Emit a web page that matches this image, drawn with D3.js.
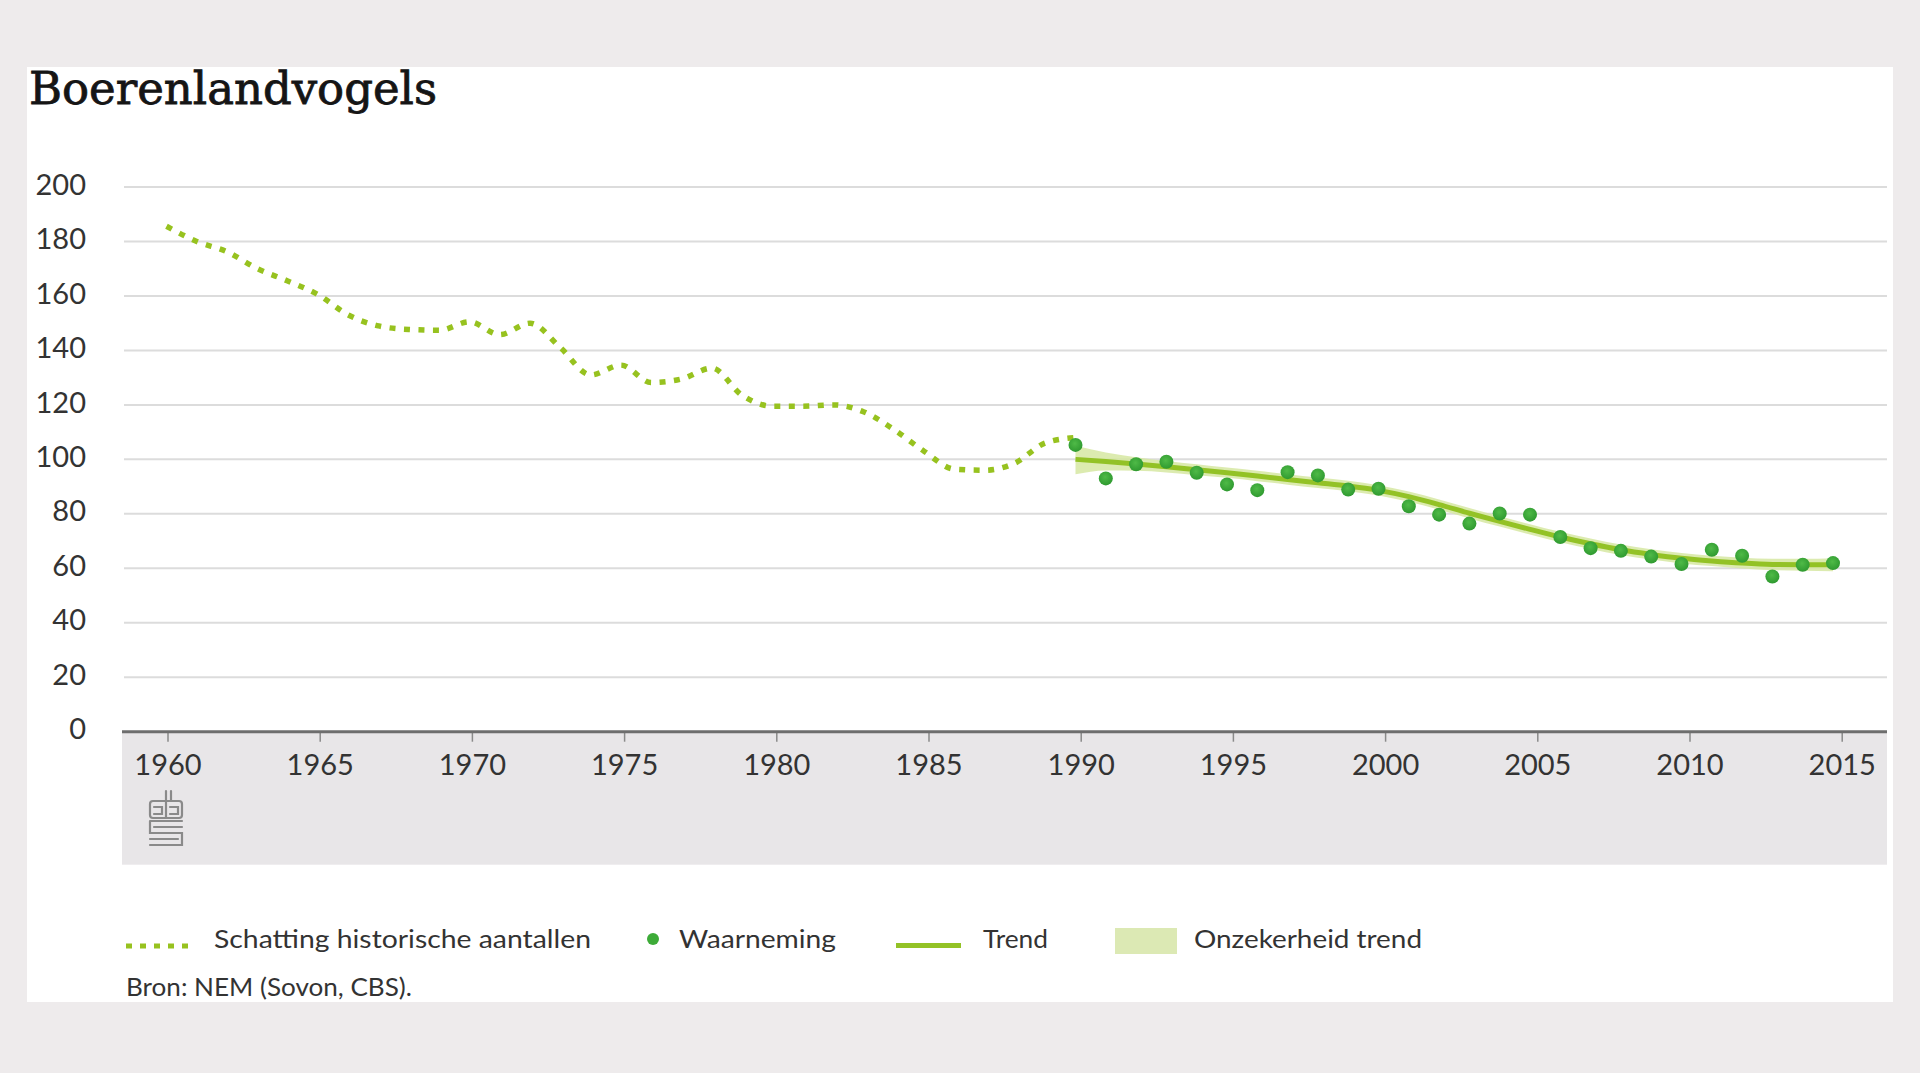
<!DOCTYPE html>
<html><head><meta charset="utf-8">
<script src="https://cdn.jsdelivr.net/npm/d3@7"></script>
<style>html,body{margin:0;padding:0;background:#eeebec;} svg{display:block;}</style>
</head><body>
<svg id="chart" width="1920" height="1073"></svg>
<script>
// ---------- DATA ----------
const chartTitle = "Boerenlandvogels";
const sourceText = "Bron: NEM (Sovon, CBS).";
const histYears = [1960,1961,1962,1963,1964,1965,1966,1967,1968,1969,1970,1971,1972,1973,1974,1975,1976,1977,1978,1979,1980,1981,1982,1983,1984,1985,1986,1987,1988,1989,1990];
const histValues = [185.6,180,176.2,170,165.5,160.5,153,149,147.7,147.4,150.5,145.8,150,141,131,134.6,128.2,129.5,133.5,123.5,119.5,119.5,120,117.5,111,103,96.4,96,98.6,106,108];
const obsYears = [1990,1991,1992,1993,1994,1995,1996,1997,1998,1999,2000,2001,2002,2003,2004,2005,2006,2007,2008,2009,2010,2011,2012,2013,2014,2015];
const obsValues = [105.3,93,98.2,99.1,95.1,90.8,88.7,95.3,94.1,88.9,89.2,82.8,79.7,76.4,80.1,79.7,71.5,67.4,66.4,64.3,61.6,66.8,64.6,57,61.3,61.9];
const trendValues = [100,99.2,98.3,97.3,96.2,95.1,93.9,92.6,91.4,90.2,88.6,86.3,83.4,80.2,77.2,74.3,71.5,69,66.8,65.1,63.7,62.7,61.9,61.4,61.3,61.3];
const bandUpper = [105,102.5,100.8,99.4,98.2,97,95.8,94.5,93.3,92.1,90.5,88.2,85.3,82.1,79.1,76.2,73.4,70.9,68.7,67,65.6,64.6,63.9,63.5,63.5,63.7];
const bandLower = [94.5,95.9,95.8,95.2,94.2,93.2,92,90.7,89.5,88.3,86.7,84.4,81.5,78.3,75.3,72.4,69.6,67.1,64.9,63.2,61.8,60.8,59.9,59.3,59.1,58.9];
const yTicks = [0,20,40,60,80,100,120,140,160,180,200];
const xTicks = [1960,1965,1970,1975,1980,1985,1990,1995,2000,2005,2010,2015];
const legendLabels = ["Schatting historische aantallen","Waarneming","Trend","Onzekerheid trend"];

// ---------- LAYOUT ----------
const svg = d3.select("#chart");
const C = {
  bg:"#eeebec", hist:"#97c21f", trend:"#93c226", band:"#d6e8a2", dot:"#3dab38",
  grid:"#dcdcdc", axis:"#6e6e6e", text:"#333333", strip:"#e8e6e8"
};
const sans = "Lato, 'Open Sans', sans-serif";
const plotL = 122, plotR = 1887;

svg.append("rect").attr("width",1920).attr("height",1073).attr("fill",C.bg);
svg.append("rect").attr("x",27).attr("y",67).attr("width",1866).attr("height",935).attr("fill","#ffffff");

const xData = d3.scaleLinear().domain([1960,2015]).range([166.5,1833]);
const xAx = d3.scaleLinear().domain([1960,2015]).range([167.5,1841.7]);
const y = d3.scaleLinear().domain([0,200]).range([731.7,187]);

// title
svg.append("text").attr("x",29).attr("y",104)
  .attr("font-family","'DejaVu Serif', serif").attr("font-weight","normal").attr("font-size",45)
  .attr("fill","#151515").attr("stroke","#151515").attr("stroke-width",0.8)
  .attr("textLength",408).attr("lengthAdjust","spacingAndGlyphs")
  .text(chartTitle);

// gridlines
svg.append("g").selectAll("line").data(yTicks.filter(d=>d>0)).join("line")
  .attr("x1",124).attr("x2",plotR).attr("y1",d=>y(d)).attr("y2",d=>y(d))
  .attr("stroke",C.grid).attr("stroke-width",2);

// grey strip under axis
svg.append("rect").attr("x",plotL).attr("y",y(0)).attr("width",plotR-plotL).attr("height",133).attr("fill",C.strip);

// y axis labels
const yAxis = d3.axisLeft(y).tickValues(yTicks).tickSize(0).tickPadding(0);
const gy = svg.append("g").attr("transform","translate(86,0)").call(yAxis);
gy.select(".domain").remove();
gy.selectAll("text").attr("font-family",sans).attr("font-size",29).attr("fill",C.text)
  .attr("dy","0.35em").attr("y",-3);

// x axis
const xAxis = d3.axisBottom(xAx).tickValues(xTicks).tickSize(10).tickFormat(d3.format("d"));
const gx = svg.append("g").attr("transform",`translate(0,${y(0)})`).call(xAxis);
gx.select(".domain").remove();
gx.selectAll(".tick line").attr("stroke","#8a8a8a").attr("stroke-width",1.5);
gx.selectAll("text").attr("font-family",sans).attr("font-size",29).attr("fill",C.text)
  .attr("y",43).attr("dy",0);
svg.append("line").attr("x1",plotL).attr("x2",plotR).attr("y1",y(0)).attr("y2",y(0))
  .attr("stroke",C.axis).attr("stroke-width",3);

// CBS logo
const logo = svg.append("g").attr("fill","none").attr("stroke","#8a8a8a").attr("stroke-width",2.2).attr("stroke-linecap","round");
logo.append("path").attr("d","M166,791 V801");
logo.append("path").attr("d","M171,791 V801");
logo.append("rect").attr("x",150).attr("y",801).attr("width",32).attr("height",17).attr("rx",3);
logo.append("path").attr("d","M166,801 V818 M154,807 H162 V814 H154 M170,807 H178 V814 H170");
logo.append("path").attr("d","M150,821 H182 M150,821 V833 H182 V845 H150 M154,827 H182 M150,839 H178");

// uncertainty band
const bandData = obsYears.map((yr,i)=>({yr, lo:bandLower[i], hi:bandUpper[i]}));
svg.append("path").datum(bandData)
  .attr("d", d3.area().x(d=>xData(d.yr)).y0(d=>y(d.lo)).y1(d=>y(d.hi)).curve(d3.curveMonotoneX))
  .attr("fill",C.band).attr("opacity",0.85);

// historical dotted line
const histData = histYears.map((yr,i)=>({yr, v:histValues[i]}));
svg.append("path").datum(histData)
  .attr("d", d3.line().x(d=>xData(d.yr)).y(d=>y(d.v)).curve(d3.curveMonotoneX))
  .attr("fill","none").attr("stroke",C.hist).attr("stroke-width",5.5).attr("stroke-dasharray","6,8.5");

// trend line
const trendData = obsYears.map((yr,i)=>({yr, v:trendValues[i]}));
svg.append("path").datum(trendData)
  .attr("d", d3.line().x(d=>xData(d.yr)).y(d=>y(d.v)).curve(d3.curveMonotoneX))
  .attr("fill","none").attr("stroke",C.trend).attr("stroke-width",5);

// dots
const defs = svg.append("defs");
const rg = defs.append("radialGradient").attr("id","dotg").attr("cx","45%").attr("cy","40%").attr("r","60%");
rg.append("stop").attr("offset","0%").attr("stop-color","#4fba47");
rg.append("stop").attr("offset","100%").attr("stop-color","#2f9a30");
const obsData = obsYears.map((yr,i)=>({yr, v:obsValues[i]}));
svg.append("g").selectAll("circle").data(obsData).join("circle")
  .attr("cx",d=>xData(d.yr)).attr("cy",d=>y(d.v)).attr("r",7)
  .attr("fill","url(#dotg)");

// legend
const lg = svg.append("g");
lg.append("line").attr("x1",126).attr("x2",192).attr("y1",946).attr("y2",946)
  .attr("stroke",C.hist).attr("stroke-width",5).attr("stroke-dasharray","6,8");
lg.append("circle").attr("cx",653).attr("cy",939).attr("r",6).attr("fill",C.dot);
lg.append("line").attr("x1",896).attr("x2",961).attr("y1",945.5).attr("y2",945.5)
  .attr("stroke",C.trend).attr("stroke-width",5);
lg.append("rect").attr("x",1115).attr("y",928).attr("width",62).attr("height",26).attr("fill","#dce9b4");
const legPos = [[214,377],[679,157],[983,65],[1194,228]];
lg.selectAll("text").data(legendLabels).join("text")
  .attr("x",(d,i)=>legPos[i][0]).attr("y",948)
  .attr("textLength",(d,i)=>legPos[i][1]).attr("lengthAdjust","spacingAndGlyphs")
  .attr("font-family",sans).attr("font-size",25).attr("fill",C.text).text(d=>d);
svg.append("text").attr("x",126).attr("y",996).attr("textLength",286).attr("lengthAdjust","spacingAndGlyphs")
  .attr("font-family",sans).attr("font-size",25).attr("fill",C.text).text(sourceText);
</script>
</body></html>
